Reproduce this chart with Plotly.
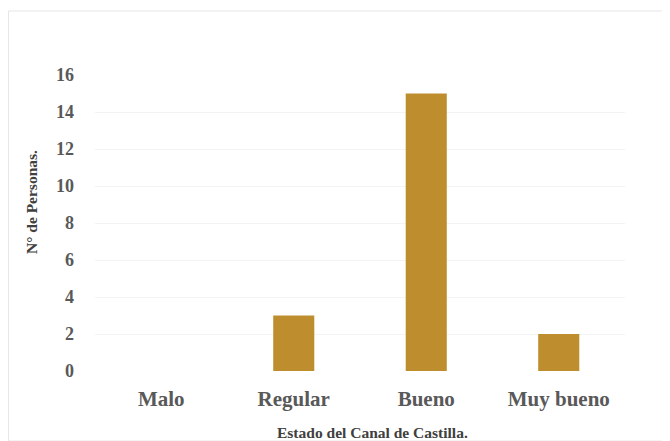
import plotly.graph_objects as go

categories = ["Malo", "Regular", "Bueno", "Muy bueno"]
values = [0, 3, 15, 2]
y_ticks = [0, 2, 4, 6, 8, 10, 12, 14, 16]

# page is offset by 8px body margin; figure sized to fit the window
OFF = 8
W, H = 670 - OFF, 441 - OFF
L, T = 95 - OFF, 75 - OFF
R = W - (625 - OFF)
B = H - (371 - OFF)
pw, ph = W - L - R, H - T - B

def px_x(x):
    return (x - OFF - L) / pw

def px_y(y):
    return (H - B - (y - OFF)) / ph

fig = go.Figure(go.Bar(
    x=categories, y=values, marker_color="#BE8E2E",
    marker_line_width=0, width=0.31,
))

font_serif = "Liberation Serif, Times New Roman, serif"

fig.update_layout(
    width=W, height=H,
    margin=dict(l=L, r=R, t=T, b=B),
    paper_bgcolor="white", plot_bgcolor="white",
    showlegend=False,
    xaxis=dict(
        showgrid=False, zeroline=False, showline=False, ticks="",
        tickfont=dict(family=font_serif, size=21, color="#595959", weight="bold"),
        ticklabelstandoff=13,
    ),
    yaxis=dict(
        range=[0, 16], tickvals=y_ticks, showgrid=True, gridcolor="#f3f3f3",
        gridwidth=1, zeroline=False, showline=False, ticks="",
        tickfont=dict(family=font_serif, size=18, color="#595959", weight="bold"),
        ticklabelstandoff=20,
    ),
    annotations=[
        dict(text="N° de Personas.", xref="paper", yref="paper",
             x=px_x(31), y=px_y(202), textangle=-90,
             showarrow=False, xanchor="center", yanchor="middle",
             font=dict(family=font_serif, size=15.5, color="#404040", weight="bold")),
        dict(text="Estado del Canal de Castilla.", xref="paper", yref="paper",
             x=px_x(372), y=px_y(432),
             showarrow=False, xanchor="center", yanchor="middle",
             font=dict(family=font_serif, size=15.5, color="#404040", weight="bold")),
    ],
    shapes=[
        dict(type="rect", xref="paper", yref="paper",
             x0=px_x(8.5), x1=px_x(669),
             y0=px_y(441), y1=px_y(11),
             line=dict(color="#e6e6e6", width=1), fillcolor="rgba(0,0,0,0)",
             layer="below"),
    ],
)

fig.write_html("out.html")
